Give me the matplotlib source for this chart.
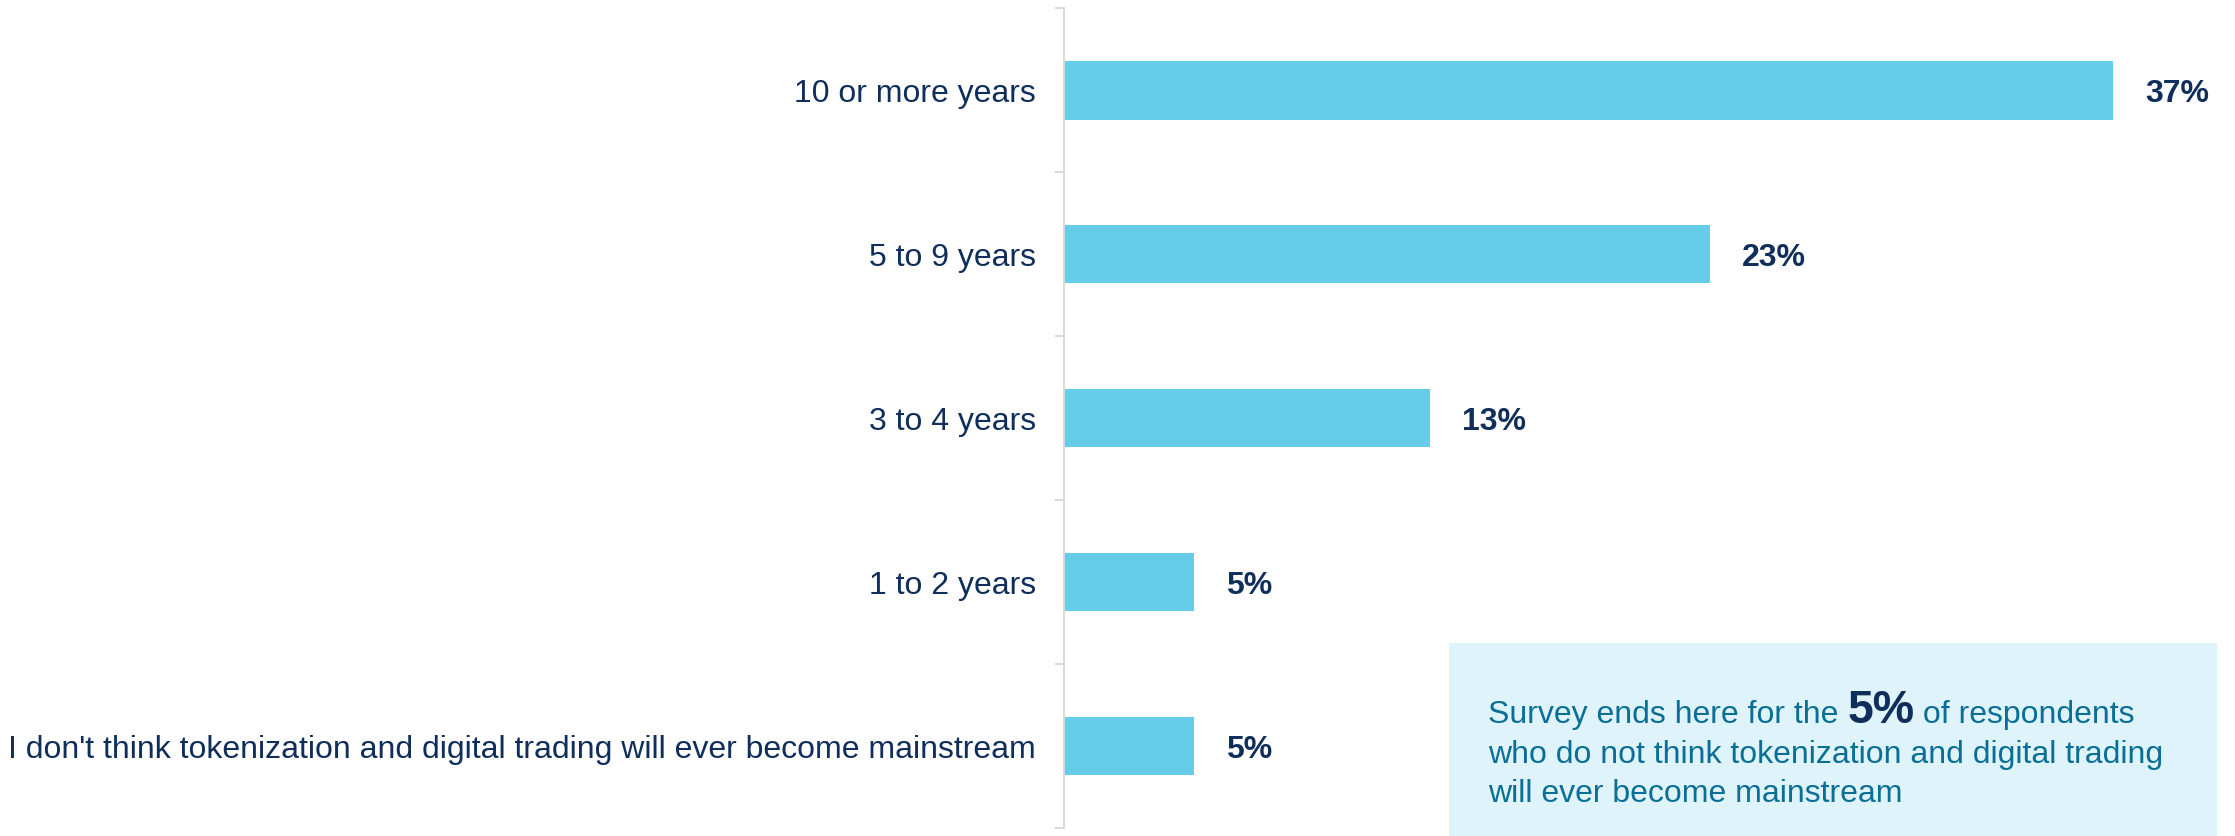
import matplotlib
matplotlib.use("Agg")
import matplotlib.pyplot as plt
from matplotlib.patches import Rectangle

# Data
categories = [
    "10 or more years",
    "5 to 9 years",
    "3 to 4 years",
    "1 to 2 years",
    "I don't think tokenization and digital trading will ever become mainstream",
]
values = [37.0, 22.8, 12.9, 4.6, 4.6]
value_labels = ["37%", "23%", "13%", "5%", "5%"]

note_lines = [
    "who do not think tokenization and digital trading",
    "will ever become mainstream",
]
note_first = ["Survey ends here for the ", "5%", " of respondents"]

# Colours
BAR = "#66CDE9"
NAVY = "#0F2E5C"
TEAL = "#0A6F96"
GRID = "#D9D9D9"
BOX = "#DFF3FA"

plt.rcParams["font.family"] = ["Liberation Sans", "DejaVu Sans"]

W, H = 2235, 836
fig = plt.figure(figsize=(W / 100, H / 100), dpi=100)
ax = fig.add_axes([1064 / W, 1 - 828 / H, (2198 - 1064) / W, (828 - 8.5) / H])

ypos = list(range(len(categories)))
ax.barh(ypos, values, height=0.355, color=BAR, zorder=1)

for y, v, lab in zip(ypos, values, value_labels):
    ax.annotate(lab, xy=(v, y), xytext=(23, 0), textcoords="offset points",
                va="center_baseline", ha="left", fontsize=23,
                fontweight="bold", color=NAVY)

ax.set_xlim(0, 40)
ax.set_ylim(len(categories) - 0.5, -0.5)

ax.set_yticks(ypos)
ax.set_yticklabels(categories, fontsize=23, color=NAVY)
ax.tick_params(axis="y", which="major", length=0, pad=20)
ax.set_yticks([i - 0.5 for i in range(len(categories) + 1)], minor=True)
ax.tick_params(axis="y", which="minor", length=6.5, width=1.4, color=GRID)

ax.set_xticks([])
for side in ["top", "right", "bottom"]:
    ax.spines[side].set_visible(False)
ax.spines["left"].set_color(GRID)
ax.spines["left"].set_linewidth(1.4)

# Note box in the lower right corner
fig.patches.append(Rectangle((1449 / W, 0), (2217 - 1449) / W, (836 - 643) / H,
                             transform=fig.transFigure, facecolor=BOX,
                             edgecolor="none", zorder=0))

x0 = 1488 / W
renderer = fig.canvas.get_renderer()
x = x0
styles = [dict(fontsize=23, color=TEAL),
          dict(fontsize=33.5, color=NAVY, fontweight="bold"),
          dict(fontsize=23, color=TEAL)]
for part, st in zip(note_first, styles):
    t = fig.text(x, 1 - 722.7 / H, part, va="baseline", ha="left", **st)
    bb = t.get_window_extent(renderer=renderer)
    x = bb.x1 / W

for line, base in zip(note_lines, [763.3, 801.7]):
    fig.text(x0, 1 - base / H, line, va="baseline", ha="left",
             fontsize=23, color=TEAL)

fig.savefig("out.png", dpi=100, facecolor="white")
